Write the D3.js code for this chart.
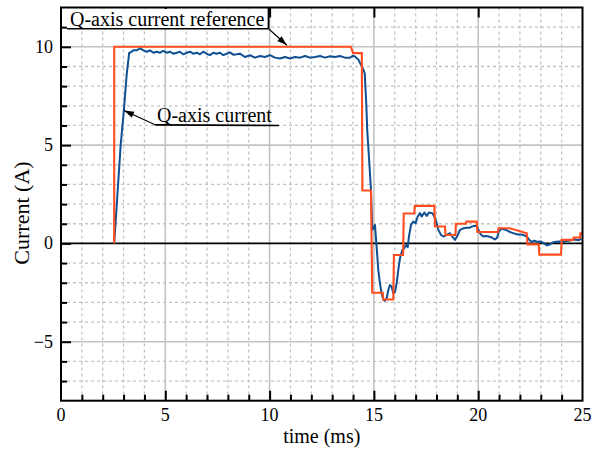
<!DOCTYPE html>
<html>
<head>
<meta charset="utf-8">
<script src="https://cdn.jsdelivr.net/npm/d3@7"></script>
<style>
  html, body { margin: 0; padding: 0; background: #fff; }
  svg { display: block; }
  text { font-family: "Liberation Serif", "Times New Roman", serif; fill: #000; }
</style>
</head>
<body>
<svg id="chart" width="602" height="454"></svg>
<script>
// Step response of the q-axis current loop: reference vs. measured current.
const refTime = [2.55, 2.55, 13.9, 14.0, 14.42, 14.45, 14.86, 14.92, 15.42, 15.45, 15.93, 15.96, 16.40, 16.43,
  16.94, 16.96, 17.90, 17.93, 18.41, 18.43, 18.91, 18.93, 19.41, 19.43, 19.93, 19.96, 20.95, 20.97,
  21.52, 22.33, 22.36, 22.90, 22.93, 23.97, 24.00, 24.56, 24.58, 24.88, 24.90, 25.0];
const refCurrent = [0, 10, 10, 9.68, 9.68, 2.69, 2.69, -2.51, -2.51, -2.85, -2.85, -0.59, -0.59, 1.52,
  1.52, 1.91, 1.91, 0.86, 0.86, 0.43, 0.43, 1.0, 1.0, 1.11, 1.11, 0.58, 0.58, 0.77,
  0.77, 0.52, -0.05, -0.05, -0.57, -0.57, 0.18, 0.18, 0.30, 0.30, 0.52, 0.52];

const measTime = [2.55, 2.70, 2.86, 3.02, 3.15, 3.27, 3.31, 3.47, 3.63, 3.79, 3.95, 4.11, 4.27, 4.43, 4.59,
  4.75, 4.90, 5.07, 5.23, 5.38, 5.55, 5.70, 5.86, 6.03, 6.18, 6.34, 6.51, 6.66, 6.82, 6.98, 7.14,
  7.30, 7.46, 7.62, 7.78, 7.94, 8.10, 8.26, 8.42, 8.58, 8.82, 9.06, 9.30, 9.54, 9.78, 10.02, 10.26,
  10.50, 10.74, 10.98, 11.22, 11.46, 11.70, 11.94, 12.18, 12.42, 12.66, 12.90, 13.13, 13.37, 13.61,
  13.85, 14.01, 14.10, 14.25, 14.41, 14.50, 14.56, 14.60, 14.64, 14.68, 14.73, 14.81, 14.86, 14.92,
  14.97, 15.05, 15.13, 15.21, 15.29, 15.37, 15.45, 15.52, 15.61, 15.69, 15.77, 15.85, 15.93, 16.01,
  16.09, 16.17, 16.25, 16.36, 16.46, 16.53, 16.62, 16.68, 16.78, 16.89, 17.00, 17.10, 17.21, 17.29,
  17.42, 17.53, 17.64, 17.80, 17.90, 18.01, 18.09, 18.22, 18.33, 18.49, 18.65, 18.76, 18.89, 19.02,
  19.13, 19.29, 19.45, 19.60, 19.75, 19.90, 20.00, 20.10, 20.22, 20.35, 20.50, 20.65, 20.80, 20.90,
  21.00, 21.12, 21.30, 21.45, 21.60, 21.75, 21.90, 22.05, 22.20, 22.35, 22.45, 22.55, 22.70, 22.85,
  23.00, 23.15, 23.30, 23.45, 23.60, 23.75, 23.90, 24.05, 24.20, 24.35, 24.50, 24.65, 24.80, 24.95];
const measCurrent = [0, 2.4, 5.0, 6.85, 8.6, 9.70, 9.70, 9.82, 9.82, 9.92, 9.82, 9.75, 9.82, 9.70, 9.75,
  9.70, 9.79, 9.70, 9.75, 9.65, 9.70, 9.75, 9.62, 9.70, 9.75, 9.65, 9.70, 9.62, 9.75, 9.65, 9.58,
  9.70, 9.65, 9.70, 9.58, 9.65, 9.72, 9.60, 9.62, 9.65, 9.48, 9.57, 9.45, 9.53, 9.48, 9.58, 9.45,
  9.41, 9.48, 9.41, 9.48, 9.45, 9.53, 9.45, 9.48, 9.53, 9.45, 9.52, 9.48, 9.53, 9.45,
  9.45, 9.55, 9.50, 9.36, 9.02, 8.82, 8.65, 7.80, 6.98, 5.75, 4.94, 3.58, 2.73, 0.69,
  0.75, 0.94, -0.16, -1.35, -2.03, -2.54, -2.85, -2.92, -2.80, -2.37, -2.12, -2.20, -2.54, -2.48,
  -2.03, -1.35, -0.76, -0.33, -0.24, -0.08, -0.19, 0.35, 0.94, 1.11, 1.03, 1.37, 1.54, 1.37,
  1.57, 1.40, 1.57, 1.54, 1.37, 1.03, 0.69, 0.43, 0.35, 0.43, 0.52, 0.35, 0.18, 0.43,
  0.69, 0.77, 0.80, 0.80, 0.88, 0.90, 0.72, 0.50, 0.36, 0.38, 0.35, 0.30, 0.20, 0.28,
  0.62, 0.75, 0.70, 0.62, 0.55, 0.50, 0.45, 0.45, 0.42, 0.32, 0.18, 0.08, 0.14, 0.08,
  0.10, 0.00, -0.10, -0.04, 0.06, 0.08, 0.10, 0.08, 0.12, 0.14, 0.17, 0.20, 0.16, 0.25];

const xMajorTicks = [0, 5, 10, 15, 20, 25];
const yMajorTicks = [-5, 0, 5, 10];
const xLabel = "time (ms)";
const yLabel = "Current (A)";
const refName = "Q-axis current reference";
const measName = "Q-axis current";

const W = 602, H = 454;
const plot = { left: 61, right: 582.5, top: 7.5, bottom: 400.7 };
const x = d3.scaleLinear().domain([0, 25]).range([plot.left, plot.right]);
const y = d3.scaleLinear().domain([-8, 12]).range([plot.bottom, plot.top]);

const svg = d3.select("#chart");
const gray = "#c3c3c3";

const xMinor = d3.range(1, 25).filter(v => v % 5 !== 0);
const yMinor = d3.range(-7, 12).filter(v => v % 5 !== 0);
const xMajorInner = xMajorTicks.filter(v => v > 0 && v < 25);
const yMajorInner = yMajorTicks.filter(v => v !== 0);

// dotted minor grid
const grid = svg.append("g");
grid.selectAll(".vmin").data(xMinor).join("line")
  .attr("x1", d => x(d)).attr("x2", d => x(d)).attr("y1", plot.top).attr("y2", plot.bottom)
  .attr("stroke", gray).attr("stroke-width", 1.3).attr("stroke-dasharray", "3,3");
grid.selectAll(".hmin").data(yMinor).join("line")
  .attr("y1", d => y(d)).attr("y2", d => y(d)).attr("x1", plot.left).attr("x2", plot.right)
  .attr("stroke", gray).attr("stroke-width", 1.3).attr("stroke-dasharray", "3,3");
// solid major grid
grid.selectAll(".vmaj").data(xMajorInner).join("line")
  .attr("x1", d => x(d)).attr("x2", d => x(d)).attr("y1", plot.top).attr("y2", plot.bottom)
  .attr("stroke", gray).attr("stroke-width", 1.6);
grid.selectAll(".hmaj").data(yMajorInner).join("line")
  .attr("y1", d => y(d)).attr("y2", d => y(d)).attr("x1", plot.left).attr("x2", plot.right)
  .attr("stroke", gray).attr("stroke-width", 1.6);

// zero line
svg.append("line")
  .attr("x1", plot.left).attr("x2", plot.right).attr("y1", y(0)).attr("y2", y(0))
  .attr("stroke", "#000").attr("stroke-width", 1.6);

// traces
const line = d3.line().x(d => x(d[0])).y(d => y(d[1]));
const measData = measTime.map((t, i) => [t, measCurrent[i]]);
const refData = refTime.map((t, i) => [t, refCurrent[i]]);

svg.append("path").datum(measData).attr("d", line)
  .attr("fill", "none").attr("stroke", "#0f4f91").attr("stroke-width", 2)
  .attr("stroke-linejoin", "round");
svg.append("path").datum(refData).attr("d", line)
  .attr("fill", "none").attr("stroke", "#ff4d20").attr("stroke-width", 2.1)
  .attr("stroke-linejoin", "miter");

// axes: ticks pointing inward
function axisTicks(axis, transform, values, size) {
  const g = svg.append("g").attr("transform", transform)
    .call(axis.tickValues(values).tickSize(size).tickFormat(""));
  g.select(".domain").remove();
  g.selectAll("line").attr("stroke", "#000").attr("stroke-width", 2);
  return g;
}
axisTicks(d3.axisBottom(x), `translate(0,${plot.bottom})`, xMajorInner, -10);
axisTicks(d3.axisBottom(x), `translate(0,${plot.bottom})`, xMinor, -6);
axisTicks(d3.axisTop(x), `translate(0,${plot.top})`, xMajorInner, -10);
axisTicks(d3.axisLeft(y), `translate(${plot.left},0)`, yMajorTicks, -10);
axisTicks(d3.axisLeft(y), `translate(${plot.left},0)`, d3.range(-7, 12).filter(v => v % 5 !== 0), -6);

// frame
svg.append("rect")
  .attr("x", plot.left).attr("y", plot.top)
  .attr("width", plot.right - plot.left).attr("height", plot.bottom - plot.top)
  .attr("fill", "none").attr("stroke", "#000").attr("stroke-width", 2);

// tick labels
const fmt = d3.format("");
svg.append("g").selectAll("text").data(xMajorTicks).join("text")
  .attr("x", d => x(d)).attr("y", 421)
  .attr("text-anchor", "middle").attr("font-size", 18).text(fmt);
svg.append("g").selectAll("text").data(yMajorTicks).join("text")
  .attr("x", 53).attr("y", d => y(d) + 6)
  .attr("text-anchor", "end").attr("font-size", 18).text(fmt);

// axis titles
svg.append("text").attr("x", (plot.left + plot.right) / 2).attr("y", 443)
  .attr("text-anchor", "middle").attr("font-size", 20).text(xLabel);
svg.append("text")
  .attr("transform", `translate(29,213) rotate(-90)`)
  .attr("text-anchor", "middle").attr("font-size", 22).text(yLabel);

// callout labels
function callout(name, textAt, lineFrom, lineTo, tip, box) {
  const g = svg.append("g");
  const tx = x(textAt[0]), ty = y(textAt[1]);
  const t = g.append("text").attr("x", tx).attr("y", ty).attr("font-size", 20).text(name);
  const bb = t.node().getBBox();
  if (box) {
    g.insert("rect", "text")
      .attr("x", bb.x - 3).attr("y", plot.top + 1.5)
      .attr("width", bb.width + 6).attr("height", bb.y + bb.height - plot.top - 3)
      .attr("fill", "#fff");
  }
  g.append("line")
    .attr("x1", x(lineFrom[0])).attr("y1", y(lineFrom[1]))
    .attr("x2", x(lineTo[0])).attr("y2", y(lineTo[1]))
    .attr("stroke", "#000").attr("stroke-width", 1.6);
  const sx = x(tip.from[0]), sy = y(tip.from[1]);
  const ex = x(tip.to[0]), ey = y(tip.to[1]);
  g.append("line").attr("x1", sx).attr("y1", sy).attr("x2", ex).attr("y2", ey)
    .attr("stroke", "#000").attr("stroke-width", 1.1);
  const ang = Math.atan2(ey - sy, ex - sx);
  const L = 10, Wd = 3.2;
  const bx = ex - L * Math.cos(ang), by = ey - L * Math.sin(ang);
  const px = -Math.sin(ang) * Wd, py = Math.cos(ang) * Wd;
  g.append("path")
    .attr("d", `M${ex},${ey}L${bx + px},${by + py}L${bx - px},${by - py}Z`)
    .attr("fill", "#000");
  return g;
}
const refCallout = callout(refName, [0.43, 11.06], [0.29, 10.92], [9.95, 10.92],
  { from: [9.95, 10.92], to: [10.83, 10.08] }, true);
// right edge of the reference callout box
refCallout.append("line")
  .attr("x1", x(9.95)).attr("x2", x(9.95)).attr("y1", plot.top).attr("y2", y(10.92))
  .attr("stroke", "#000").attr("stroke-width", 1.8);
callout(measName, [4.6, 6.16], [4.51, 6.03], [10.45, 6.0],
  { from: [4.51, 6.03], to: [3.02, 6.76] }, false);
</script>
</body>
</html>
